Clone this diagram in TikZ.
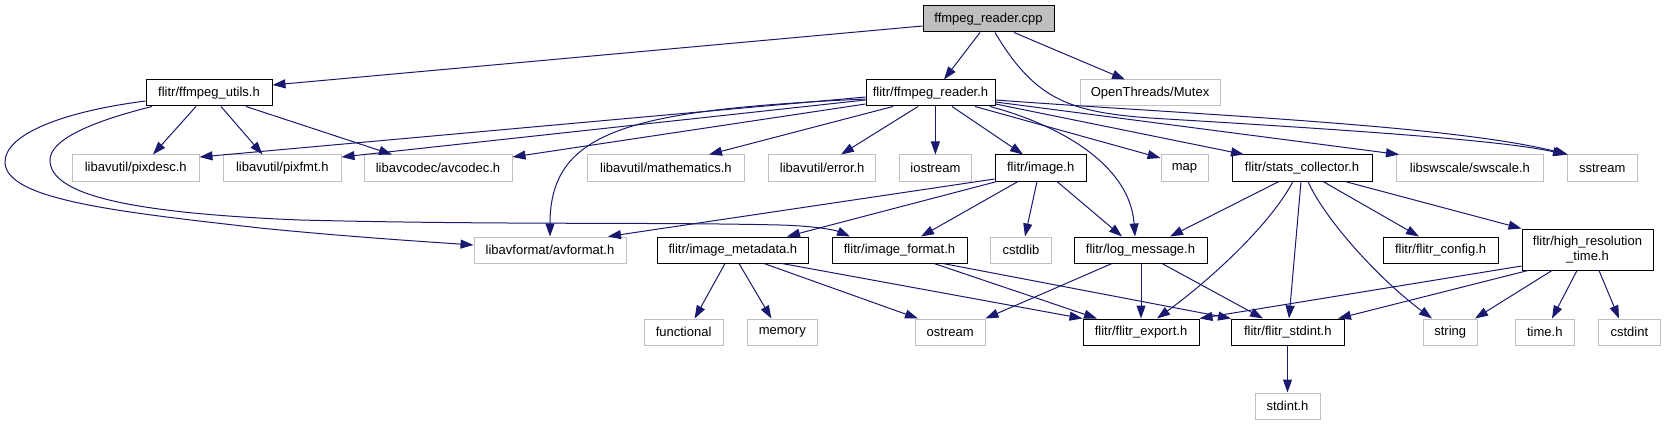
\documentclass[tikz,border=0pt]{standalone}
\usepackage{fontspec}
\setmainfont{Liberation Sans}
\usetikzlibrary{arrows.meta}
\definecolor{edgec}{HTML}{191970}
\definecolor{grey75}{HTML}{BFBFBF}
\begin{document}
\begin{tikzpicture}[x=1pt,y=-1pt,
  box/.style={rectangle, inner sep=0pt, line width=1pt, fill=white, text=black, align=center, font=\fontsize{13}{15}\selectfont, minimum height=26pt},
  int/.style={box, draw=black},
  ext/.style={box, draw=grey75},
  dep/.style={draw=edgec, line width=1pt, -{Triangle[length=13pt,width=9pt]}}
]
\useasboundingbox[fill=white] (0,0) rectangle (1665,425);
% row 0
\node[int, fill=grey75, minimum width=131pt] (cpp) at (988.5,19) {ffmpeg\_reader.cpp};
% row 1
\node[int, minimum width=126pt] (utils) at (209,93) {flitr/ffmpeg\_utils.h};
\node[int, minimum width=129pt] (reader) at (930.5,93) {flitr/ffmpeg\_reader.h};
\node[ext, minimum width=140pt] (mutex) at (1150,93) {OpenThreads/Mutex};
% row 2
\node[ext, minimum width=126.5pt] (pixdesc) at (135.75,168) {libavutil/pixdesc.h};
\node[ext, minimum width=117.4pt] (pixfmt) at (282.3,168) {libavutil/pixfmt.h};
\node[ext, minimum width=148pt] (avcodec) at (438,168) {libavcodec/avcodec.h};
\node[ext, minimum width=156.8pt] (math) at (665.9,168) {libavutil/mathematics.h};
\node[ext, minimum width=107pt] (error) at (822.2,168) {libavutil/error.h};
\node[ext, minimum width=72pt] (iostream) at (935.4,168) {iostream};
\node[int, minimum width=91.4pt] (image) at (1040.7,168) {flitr/image.h};
\node[ext, minimum width=47pt] (map) at (1184.5,168) {map};
\node[int, minimum width=140pt] (stats) at (1302,168) {flitr/stats\_collector.h};
\node[ext, minimum width=146.6pt] (swscale) at (1469.9,168) {libswscale/swscale.h};
\node[ext, minimum width=69.6pt] (sstream) at (1602.2,168) {sstream};
% row 3
\node[ext, minimum width=152pt] (avformat) at (550,250) {libavformat/avformat.h};
\node[int, minimum width=150.7pt] (metadata) at (732.9,250) {flitr/image\_metadata.h};
\node[int, minimum width=135pt] (format) at (899.5,250) {flitr/image\_format.h};
\node[ext, minimum width=60.7pt] (cstdlib) at (1021,250) {cstdlib};
\node[int, minimum width=133pt] (logmsg) at (1140.5,250) {flitr/log\_message.h};
\node[int, minimum width=115.2pt] (config) at (1440.6,250) {flitr/flitr\_config.h};
\node[int, minimum width=131pt, minimum height=41pt] (hrt) at (1587.5,249.5) {flitr/high\_resolution\\\_time.h};
% row 4
\node[ext, minimum width=79.2pt] (functional) at (683.6,332) {functional};
\node[ext, minimum width=69.5pt] (memory) at (782.3,332) {memory};
\node[ext, minimum width=69.6pt] (ostream) at (950.2,332) {ostream};
\node[int, minimum width=116pt] (export) at (1141,332) {flitr/flitr\_export.h};
\node[int, minimum width=112.5pt] (stdintf) at (1287.8,332) {flitr/flitr\_stdint.h};
\node[ext, minimum width=54.3pt] (string) at (1450.2,332) {string};
\node[ext, minimum width=58.5pt] (timeh) at (1544.8,332) {time.h};
\node[ext, minimum width=62pt] (cstdint) at (1629.4,332) {cstdint};
% row 5
\node[ext, minimum width=65pt] (stdinth) at (1287.5,406) {stdint.h};

% edges from cpp
\draw[dep] (cpp.west |- 0,26) -- (utils.east |- 0,85);
\draw[dep] (cpp.south -| 980,0) -- (reader.north -| 944,0);
\draw[dep] (cpp.south -| 1014,0) -- (mutex.north -| 1125,0);
\draw[dep] (cpp.south -| 995,0) .. controls (1035,100) and (1070,112) .. (1150,118) .. controls (1350,130) and (1500,140) .. (sstream.north -| 1566,0);
% edges from ffmpeg_reader.h
\draw[dep] (reader.west |- 0,97) -- (pixdesc.east |- 0,157);
\draw[dep] (reader.west |- 0,100) -- (pixfmt.east |- 0,157);
\draw[dep] (reader.west |- 0,104) -- (avcodec.east |- 0,157);
\draw[dep] (reader.west |- 0,99) .. controls (630,110) and (550,130) .. (avformat.north -| 550,0);
\draw[dep] (reader.south -| 893,0) -- (math.north -| 709,0);
\draw[dep] (reader.south -| 918,0) -- (error.north -| 841,0);
\draw[dep] (reader.south -| iostream.north) -- (iostream.north);
\draw[dep] (reader.south -| 952,0) -- (image.north -| 1023,0);
\draw[dep] (reader.south -| 975,0) -- (map.west |- 0,158);
\draw[dep] (reader.south -| 990,0) .. controls (1060,125) and (1130,165) .. (logmsg.north -| 1135,0);
\draw[dep] (reader.east |- 0,104) -- (stats.north -| 1244,0);
\draw[dep] (reader.east |- 0,102) -- (swscale.north -| 1399,0);
\draw[dep] (reader.east |- 0,100) .. controls (1200,115) and (1450,125) .. (sstream.north -| 1568,0);
% edges from ffmpeg_utils.h
\draw[dep] (utils.south -| 196,0) -- (pixdesc.north -| 153,0);
\draw[dep] (utils.south -| 221,0) -- (pixfmt.north -| 262.5,0);
\draw[dep] (utils.south -| 246,0) -- (avcodec.north -| 392,0);
\draw[dep] (utils.west |- 0,101) .. controls (60,112) and (5,135) .. (5,162) .. controls (5,200) and (120,212) .. (260,228) .. controls (350,237) and (430,242) .. (avformat.west |- 0,245);
\draw[dep] (utils.south -| 152,0) .. controls (90,122) and (50,140) .. (50,160) .. controls (50,195) and (130,213) .. (300,220) .. controls (500,225) and (650,222) .. (780,225) .. controls (815,226) and (835,230) .. (format.north -| 850,0);
% edges from image.h
\draw[dep] (image.west |- 0,179) -- (avformat.north -| 608,0);
\draw[dep] (image.south -| 997,0) -- (metadata.north -| 787,0);
\draw[dep] (image.south -| 1018,0) -- (format.north -| 921,0);
\draw[dep] (image.south -| 1037,0) -- (cstdlib.north -| 1025,0);
\draw[dep] (image.south -| 1057,0) -- (logmsg.north -| 1122,0);
% edges from stats_collector.h
\draw[dep] (stats.south -| 1279,0) -- (logmsg.north -| 1170,0);
\draw[dep] (stats.south -| 1293,0) .. controls (1270,225) and (1210,280) .. (export.north -| 1157,0);
\draw[dep] (stats.south -| 1301,0) -- (stdintf.north -| 1289,0);
\draw[dep] (stats.south -| 1308,0) .. controls (1325,220) and (1380,280) .. (string.north -| 1432,0);
\draw[dep] (stats.south -| 1323,0) -- (config.north -| 1419,0);
\draw[dep] (stats.south -| 1345,0) -- (hrt.north west);
% edges from image_metadata.h
\draw[dep] (metadata.south -| 725,0) -- (functional.north -| 694.6,0);
\draw[dep] (metadata.south -| 739,0) -- (memory.north -| 771.4,0);
\draw[dep] (metadata.south -| 764,0) -- (ostream.north -| 918,0);
\draw[dep] (metadata.south -| 782,0) -- (export.north west);
% edges from image_format.h
\draw[dep] (format.south -| 934,0) -- (export.north -| 1097,0);
\draw[dep] (format.south -| 943,0) -- (stdintf.north west);
% edges from log_message.h
\draw[dep] (logmsg.south -| 1112,0) -- (ostream.north east);
\draw[dep] (logmsg.south -| 1141,0) -- (export.north -| 1141,0);
\draw[dep] (logmsg.south -| 1162,0) -- (stdintf.north -| 1263,0);
% edges from high_resolution_time.h
\draw[dep] (hrt.west |- 0,266) -- (export.north east);
\draw[dep] (hrt.south -| 1528,0) -- (stdintf.north -| 1338,0);
\draw[dep] (hrt.south -| 1552,0) -- (string.north -| 1475,0);
\draw[dep] (hrt.south -| 1577,0) -- (timeh.north -| 1552,0);
\draw[dep] (hrt.south -| 1599,0) -- (cstdint.north -| 1619,0);
% flitr_stdint.h
\draw[dep] (stdintf.south -| stdinth.north) -- (stdinth.north);
\end{tikzpicture}
\end{document}
